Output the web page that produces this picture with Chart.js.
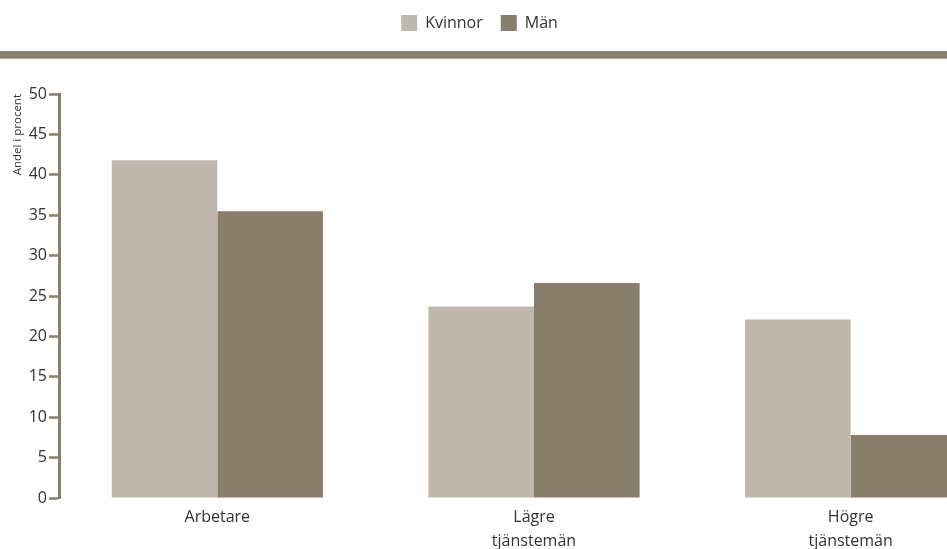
<!DOCTYPE html>
<html lang="sv">
<head>
<meta charset="utf-8">
<title>Andel i procent – Kvinnor och Män</title>
<script src="https://cdn.jsdelivr.net/npm/chart.js@4/dist/chart.umd.min.js"></script>
<style>
  html, body { margin: 0; padding: 0; overflow: hidden; background: #ffffff; }
  #wrap { position: relative; width: 1009px; height: 549px; }
</style>
</head>
<body>
<div id="wrap"><canvas id="chart"></canvas></div>
<script>
// Occupational groups and share (%) per sex
const categories = ['Arbetare', ['Lägre', 'tjänstemän'], ['Högre', 'tjänstemän']];
const kvinnor = [41.8, 23.7, 22.1];
const man = [35.5, 26.6, 7.8];
const seriesNames = ['Kvinnor', 'Män'];
const yTicks = { min: 0, max: 50, step: 5 };

const LIGHT = '#c0b8ad';
const DARK = '#897d6c';
const AXIS = '#8a7e6e';
const TEXT = '#333333';
const FONT = "'Open Sans', 'DejaVu Sans', sans-serif";

// Adds room under the legend and paints the brown rule beneath it
const legendRule = {
  id: 'legendRule',
  beforeInit(chart) {
    const legend = chart.legend;
    const fit = legend.fit;
    legend.fit = function () {
      fit.call(this);
      this.height += 50;
    };
  },
  afterLayout(chart) {
    const legend = chart.legend;
    // centre the legend items over the visible part of the page
    legend.right = 959;
    legend.top -= 3;
  },
  beforeDraw(chart) {
    const ctx = chart.ctx;
    const y = chart.legend.top + 54;
    ctx.save();
    ctx.fillStyle = AXIS;
    ctx.fillRect(0, y, chart.width, 7);
    ctx.fillStyle = '#b4aa9c';
    ctx.fillRect(0, y + 7, chart.width, 1);
    ctx.restore();
  }
};

new Chart(document.getElementById('chart'), {
  type: 'bar',
  data: {
    labels: categories,
    datasets: [
      { label: seriesNames[0], data: kvinnor, backgroundColor: LIGHT, borderWidth: 0 },
      { label: seriesNames[1], data: man, backgroundColor: DARK, borderWidth: 0 }
    ]
  },
  options: {
    responsive: true,
    maintainAspectRatio: false,
    animation: false,
    layout: { padding: { top: 0, left: 0, right: 0, bottom: 0 } },
    datasets: {
      bar: { categoryPercentage: 0.667, barPercentage: 1.0 }
    },
    plugins: {
      legend: {
        position: 'top',
        labels: {
          boxWidth: 16,
          boxHeight: 16,
          padding: 18,
          color: TEXT,
          font: { family: FONT, size: 16 }
        }
      },
      tooltip: { enabled: false }
    },
    scales: {
      x: {
        afterFit(scale) { scale.height = 51; },
        grid: { display: false },
        border: { display: false },
        ticks: {
          color: TEXT,
          padding: -1,
          maxRotation: 0,
          autoSkip: false,
          font: { family: FONT, size: 16, lineHeight: 1.5 }
        }
      },
      y: {
        min: yTicks.min,
        max: yTicks.max,
        afterFit(scale) { scale.width = 59; },
        title: {
          display: true,
          text: 'Andel i procent',
          align: 'end',
          color: TEXT,
          padding: { top: 11, bottom: 0 },
          font: { family: FONT, size: 11.5 }
        },
        grid: {
          drawOnChartArea: false,
          drawTicks: true,
          tickLength: 10,
          tickWidth: 2.5,
          tickColor: AXIS
        },
        border: { display: true, color: AXIS, width: 3 },
        ticks: {
          stepSize: yTicks.step,
          color: TEXT,
          padding: 2,
          font: { family: FONT, size: 16 }
        }
      }
    }
  },
  plugins: [legendRule]
});
</script>
</body>
</html>
